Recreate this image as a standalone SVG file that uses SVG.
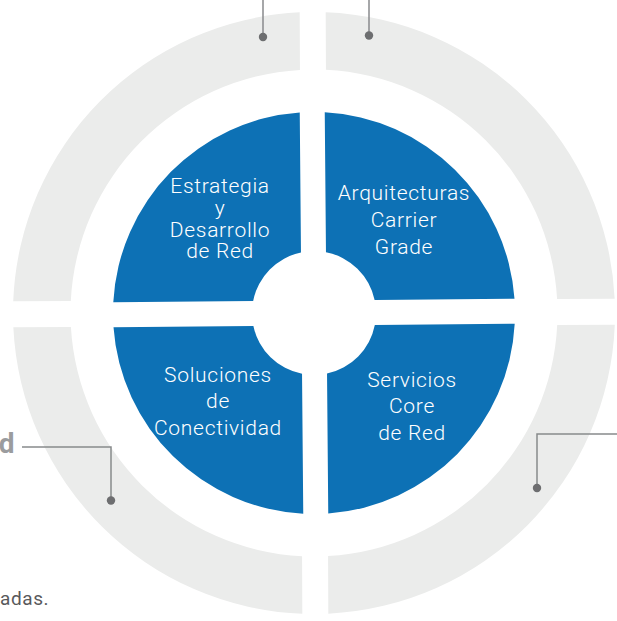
<svg xmlns="http://www.w3.org/2000/svg" width="617" height="621" viewBox="0 0 617 621">
<style>
.ring{fill:#ebeceb}
.quad{fill:#0d71b5}
.lbl{font-family:Roboto,"Liberation Sans",sans-serif;font-weight:300;font-size:21px;letter-spacing:0.7px;fill:#ffffff;text-anchor:middle}
.con{fill:none;stroke:#888a8c;stroke-width:1.5}
.dot{fill:#6d6e70}
</style>
<rect width="617" height="621" fill="#ffffff"/>
<g id="ring" transform="rotate(-0.25 314 313)">
<path class="ring" d="M301,12.28 A301 301 0 0 0 13.28,300 L70.85,300 A243.5 243.5 0 0 1 301,69.85 Z"/>
<path class="ring" d="M327,12.28 L327,69.85 A243.5 243.5 0 0 1 557.15,300 L614.72,300 A301 301 0 0 0 327,12.28 Z"/>
<path class="ring" d="M13.28,326 A301 301 0 0 0 301,613.72 L301,556.15 A243.5 243.5 0 0 1 70.85,326 Z"/>
<path class="ring" d="M327,613.72 A301 301 0 0 0 614.72,326 L557.15,326 A243.5 243.5 0 0 1 327,556.15 Z"/>
</g>
<g transform="rotate(-0.5 314 313)">
<g id="q-estrategia"><path class="quad" d="M301.5,112.39 A201 201 0 0 0 113.39,300.5 L253.27,300.5 A62 62 0 0 1 301.5,252.27 Z"/></g>
<g id="q-arquitecturas"><path class="quad" d="M326.5,112.39 L326.5,252.27 A62 62 0 0 1 374.73,300.5 L514.61,300.5 A201 201 0 0 0 326.5,112.39 Z"/></g>
<g id="q-soluciones"><path class="quad" d="M113.39,325.5 A201 201 0 0 0 301.5,513.61 L301.5,373.73 A62 62 0 0 1 253.27,325.5 Z"/></g>
<g id="q-servicios"><path class="quad" d="M326.5,513.61 A201 201 0 0 0 514.61,325.5 L374.73,325.5 A62 62 0 0 1 326.5,373.73 Z"/></g>
</g>
<g id="labels">
<text class="lbl" x="220" y="193">Estrategia</text>
<text class="lbl" x="220" y="215">y</text>
<text class="lbl" x="220" y="237">Desarrollo</text>
<text class="lbl" x="220" y="258">de Red</text>
<text class="lbl" x="404" y="200">Arquitecturas</text>
<text class="lbl" x="404" y="227">Carrier</text>
<text class="lbl" x="404" y="254">Grade</text>
<text class="lbl" x="218" y="382">Soluciones</text>
<text class="lbl" x="218" y="408">de</text>
<text class="lbl" x="218" y="435">Conectividad</text>
<text class="lbl" x="412" y="387">Servicios</text>
<text class="lbl" x="412" y="413">Core</text>
<text class="lbl" x="412" y="440">de Red</text>
</g>
<g id="connectors">
<path class="con" d="M263,0 V37"/>
<path class="con" d="M369,0 V36"/>
<path class="con" d="M22,447 H111 V500"/>
<path class="con" d="M617,434 H537 V488"/>
<circle class="dot" cx="263" cy="37" r="4.2"/>
<circle class="dot" cx="369" cy="35.5" r="4.2"/>
<circle class="dot" cx="111" cy="500.5" r="4.2"/>
<circle class="dot" cx="537" cy="488" r="4.2"/>
</g>
<text x="14.5" y="453" font-family="Roboto,'Liberation Sans',sans-serif" font-weight="700" font-size="28" fill="#9b9c9e" text-anchor="end">d</text>
<text x="0" y="605" font-family="Roboto,'Liberation Sans',sans-serif" font-size="19" letter-spacing="0.6" fill="#58595b">adas.</text>
</svg>
